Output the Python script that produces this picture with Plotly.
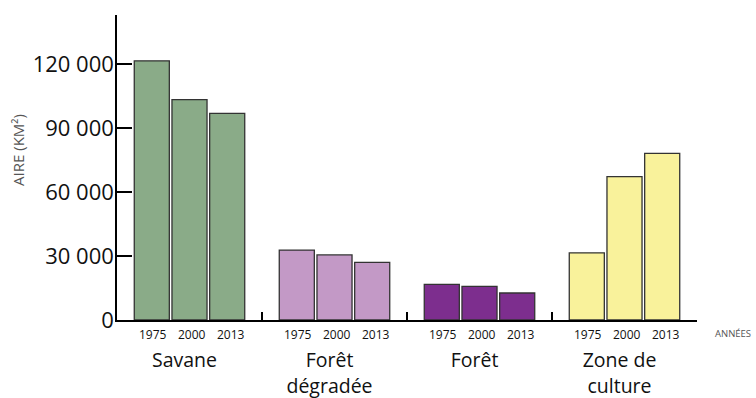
import plotly.graph_objects as go

categories = ["Savane", "Forêt<br>dégradée", "Forêt", "Zone de<br>culture"]
years = ["1975", "2000", "2013"]
values = {
    "1975": [121500, 32800, 16700, 31500],
    "2000": [103300, 30500, 15800, 67200],
    "2013": [96900, 27000, 12650, 78100],
}
colors = ["#8aab88", "#c399c6", "#7d2e8e", "#f9f29b"]
ytick_vals = [0, 30000, 60000, 90000, 120000]
ytick_text = ["0", "30 000", "60 000", "90 000", "120 000"]

fig = go.Figure()
for yr in years:
    fig.add_trace(go.Bar(
        name=yr, x=categories, y=values[yr],
        marker=dict(color=colors, line=dict(color="#333333", width=1.3)),
        showlegend=False,
    ))

FONT = "Open Sans"
year_shift = {"1975": -39, "2000": 0, "2013": 39}
for cat in categories:
    for yr in years:
        fig.add_annotation(x=cat, y=0, xref="x", yref="y", text=yr,
                           showarrow=False, xshift=year_shift[yr] + 2, yshift=-14,
                           font=dict(family=FONT, size=12, color="#111"))

fig.add_annotation(x=1.027, y=0, xref="paper", yref="y", text="ANNÉES", showarrow=False,
                   xanchor="left", yshift=-13, font=dict(family=FONT, size=9.5, color="#555"))
fig.add_annotation(x=-0.171, y=0.557, xref="paper", yref="paper", text="AIRE (KM²)",
                   showarrow=False, textangle=-90, xanchor="center", yanchor="middle",
                   font=dict(family=FONT, size=15, color="#555"))

fig.update_layout(
    width=756, height=398,
    margin=dict(l=117, r=59, t=15, b=78, autoexpand=False),
    paper_bgcolor="white", plot_bgcolor="white",
    barmode="group", bargap=0.22, bargroupgap=0.07,
    font=dict(family=FONT, color="#111"),
    xaxis=dict(
        range=[-0.5, 3.5], showline=True, linecolor="black", linewidth=1.5,
        ticks="inside", tickson="boundaries", ticklen=8, tickwidth=1.5, tickcolor="black",
        showgrid=False, zeroline=False, automargin=False,
        tickfont=dict(family=FONT, size=19.5, color="#111"),
        ticklabelstandoff=22, ticklabelshift=-5,
    ),
    yaxis=dict(
        range=[0, 143000], showline=True, linecolor="black", linewidth=1.5,
        ticks="inside", ticklen=15, tickwidth=1.5, tickcolor="black",
        tickvals=ytick_vals, ticktext=ytick_text, showgrid=False, zeroline=False,
        automargin=False, ticklabelstandoff=-3,
        tickfont=dict(family=FONT, size=22, color="#111"),
    ),
)

fig.write_html("out.html", post_script="document.body.style.margin='0';",
               config={"displayModeBar": False})
